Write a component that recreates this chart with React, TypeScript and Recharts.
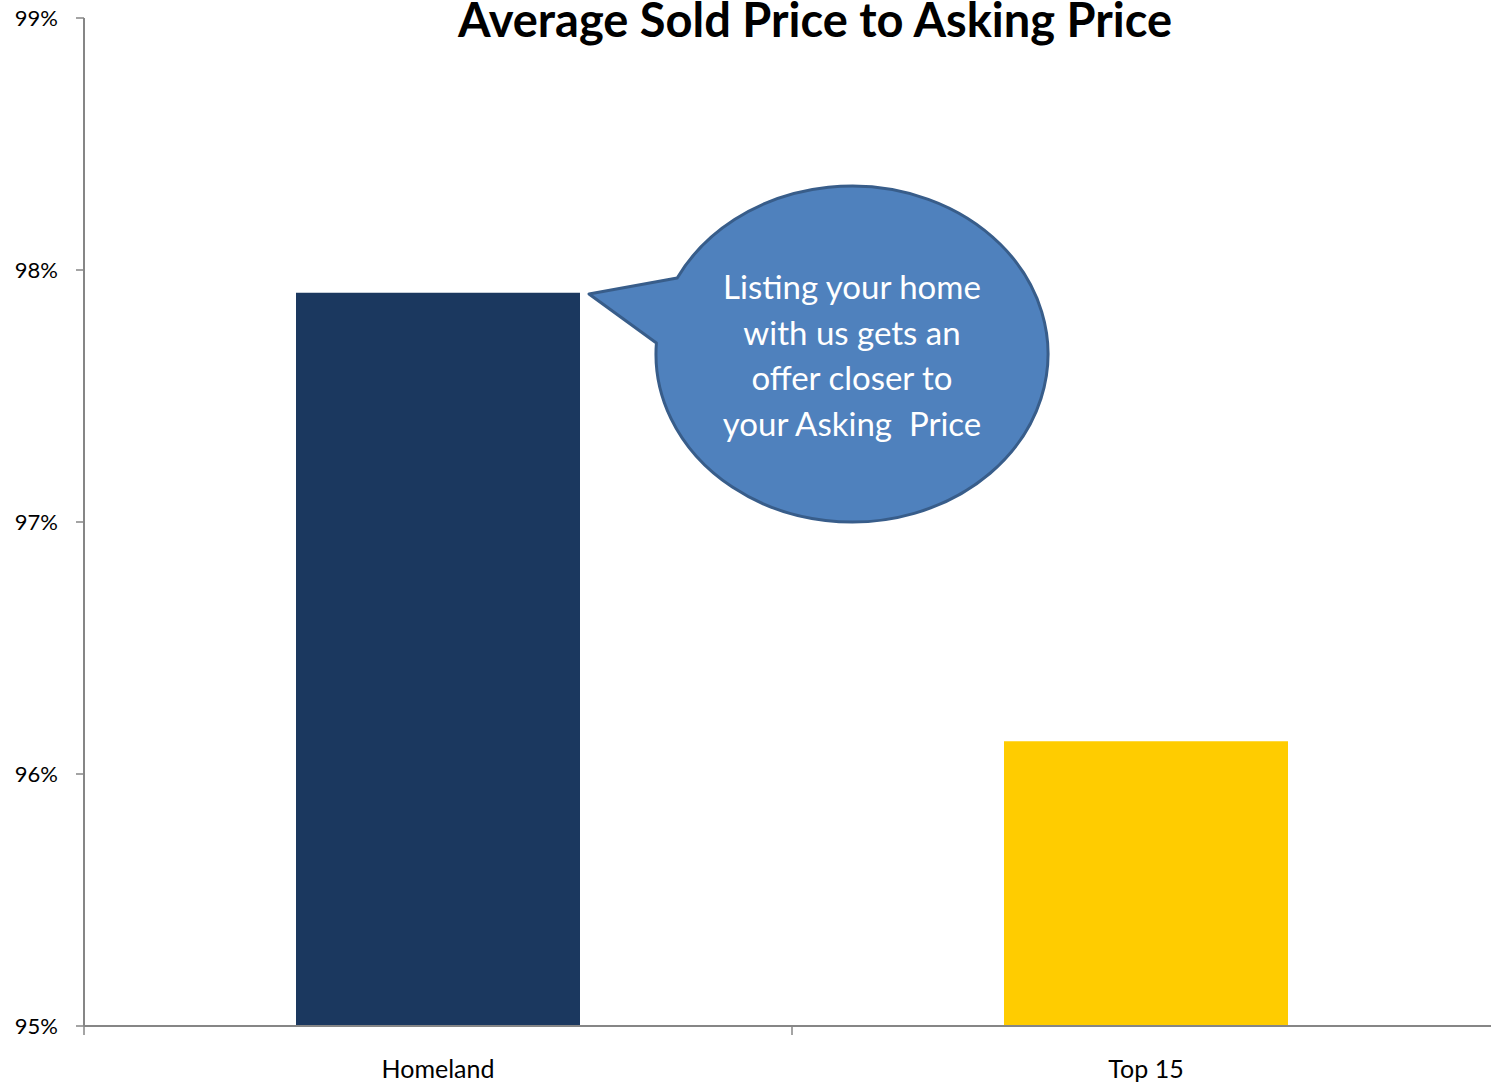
import { BarChart, Bar, XAxis, YAxis, Cell } from 'recharts';

const categories = ['Homeland', 'Top 15'];
const soldToAsking = [97.91, 96.13];
const barColors = ['#1B385F', '#FFCC00'];
const yTicks = [95, 96, 97, 98, 99];
const title = 'Average Sold Price to Asking Price';
const bubbleLines = ['Listing your home', 'with us gets an', 'offer closer to', 'your Asking  Price'];

const data = categories.map((name, i) => ({ name, value: soldToAsking[i] }));

const W = 1500;
const H = 1086;
const LEFT = 84;
const BAND = (W - LEFT) / categories.length;
const FONT = 'Lato, "Open Sans", sans-serif';
const AXIS = '#868686';

// callout ellipse
const CX = 852, CY = 354, RX = 196, RY = 168;
const onEllipse = (dy: number) => {
  const x = CX - RX * Math.sqrt(1 - (dy / RY) ** 2);
  return `${x.toFixed(1)} ${CY + dy}`;
};
const bubblePath = `M ${onEllipse(-76)} L 589 294 L ${onEllipse(-11)} A ${RX} ${RY} 0 1 0 ${onEllipse(-76)} Z`;

function CategoryTick(props: any) {
  const { x, y, payload, index } = props;
  const edge = x - BAND / 2;
  return (
    <g>
      <line x1={edge} y1={y} x2={edge} y2={y + 9} stroke={AXIS} strokeWidth={1.5} />
      {index === categories.length - 1 && (
        <line x1={x + BAND / 2} y1={y} x2={x + BAND / 2} y2={y + 9} stroke={AXIS} strokeWidth={1.5} />
      )}
      <text x={x} y={y + 52} textAnchor="middle" fontSize={25} fontFamily={FONT} fill="#000">
        {payload.value}
      </text>
    </g>
  );
}

export default function App() {
  return (
    <div style={{ position: 'absolute', left: 0, top: 0, width: 1491, height: H, overflow: 'hidden', background: '#fff' }}>
      <BarChart width={W} height={H} data={data} margin={{ top: 18, right: 0, left: 0, bottom: 0 }}>
        <YAxis
          width={LEFT}
          domain={[95, 99]}
          ticks={yTicks}
          tickFormatter={v => `${v}%`}
          axisLine={{ stroke: AXIS, strokeWidth: 2 }}
          tickLine={{ stroke: AXIS, strokeWidth: 1.5 }}
          tickSize={8}
          tickMargin={18}
          tick={{ fontSize: 22, fontFamily: FONT, fill: '#000' }}
          allowDataOverflow
        />
        <XAxis
          dataKey="name"
          height={H - 1026}
          axisLine={{ stroke: AXIS, strokeWidth: 2 }}
          tickLine={false}
          tickSize={0}
          tickMargin={0}
          tick={<CategoryTick />}
          interval={0}
        />
        <Bar dataKey="value" barSize={284} isAnimationActive={false}>
          {data.map((d, i) => (
            <Cell key={d.name} fill={barColors[i]} />
          ))}
        </Bar>
      </BarChart>

      {/* title + callout overlay */}
      <svg width={1491} height={H} style={{ position: 'absolute', left: 0, top: 0, pointerEvents: 'none' }}>
        <text x={815} y={37} textAnchor="middle" fontSize={47} fontWeight="bold" fontFamily={FONT} fill="#000">
          {title}
        </text>
        <path d={bubblePath} fill="#4F81BD" stroke="#385D8A" strokeWidth={3} strokeLinejoin="round" />
        {bubbleLines.map((line, i) => (
          <text key={i} x={852} y={299 + i * 45.5} textAnchor="middle" fontSize={33} fontFamily={FONT} fill="#fff" style={{ whiteSpace: 'pre' }}>
            {line}
          </text>
        ))}
      </svg>
    </div>
  );
}
